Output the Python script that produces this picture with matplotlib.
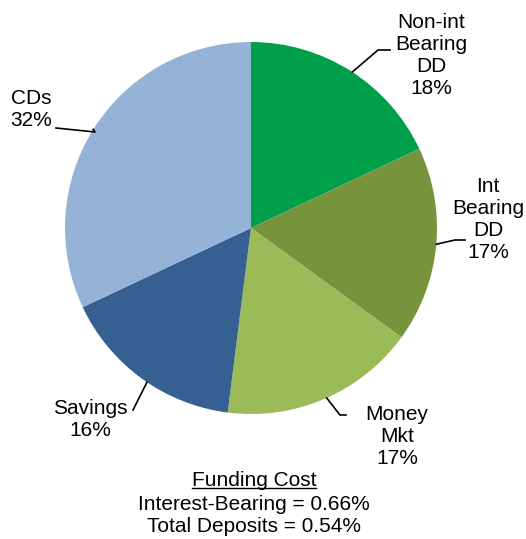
import matplotlib.pyplot as plt
import numpy as np
from matplotlib.lines import Line2D

plt.rcParams['font.family'] = ['Liberation Sans', 'DejaVu Sans']

# Dados
categorias = ["Non-int\nBearing\nDD", "Int\nBearing\nDD", "Money\nMkt", "Savings", "CDs"]
valores = [18, 17, 17, 16, 32]
cores = ["#00A04A", "#77933C", "#9BBB59", "#376092", "#95B3D7"]

W, H = 526, 539
fig = plt.figure(figsize=(W / 100, H / 100), dpi=100)

# pizza com centro em (251, 228) px e raio de 186 px
cx, cy, r = 251, 228, 186
ax = fig.add_axes([(cx - r) / W, (H - cy - r) / H, 2 * r / W, 2 * r / H])
ax.pie(valores, colors=cores, startangle=90, counterclock=False, radius=1)
ax.set_xlim(-1, 1)
ax.set_ylim(-1, 1)
ax.set_aspect("equal")
ax.axis("off")


def px(x, y):
    return ((x - cx) / r, (cy - y) / r)


# rótulos: (ângulo do ponto na borda, cotovelo, fim da linha, posição do texto)
rotulos = [
    (57.0, (378, 50), (390, 50), (431, 56)),
    (-5.0, (455, 240), (465, 240), (488, 220)),
    (-66.0, (340, 415), (346, 415), (397, 436)),
    (-124.0, (133, 410), (133, 410), (90, 420)),
    (148.0, (95, 132), (56, 128), (31, 110)),
]

fs = 15
for (ang, cot, fim, pos), nome, v in zip(rotulos, categorias, valores):
    a = np.deg2rad(ang)
    p0 = (np.cos(a), np.sin(a))
    p1 = px(*cot)
    p2 = px(*fim)
    ax.add_line(Line2D([p0[0], p1[0], p2[0]], [p0[1], p1[1], p2[1]],
                       color="black", lw=1.2, clip_on=False))
    tx, ty = px(*pos)
    ax.text(tx, ty, f"{nome}\n{v}%", ha="center", va="center", fontsize=fs,
            linespacing=1.2, clip_on=False)

# Custo de captação
t = fig.text(254 / W, 1 - 480 / H, "Funding Cost", ha="center", va="center", fontsize=fs)
fig.text(254 / W, 1 - 504 / H, "Interest-Bearing = 0.66%", ha="center", va="center", fontsize=fs)
fig.text(254 / W, 1 - 527 / H, "Total Deposits = 0.54%", ha="center", va="center", fontsize=fs)

fig.canvas.draw()
bb = t.get_window_extent().transformed(fig.transFigure.inverted())
fig.add_artist(Line2D([bb.x0, bb.x1], [bb.y0 + 0.002, bb.y0 + 0.002],
                      color="black", lw=1.0, transform=fig.transFigure))

fig.savefig("out.png", dpi=100)
